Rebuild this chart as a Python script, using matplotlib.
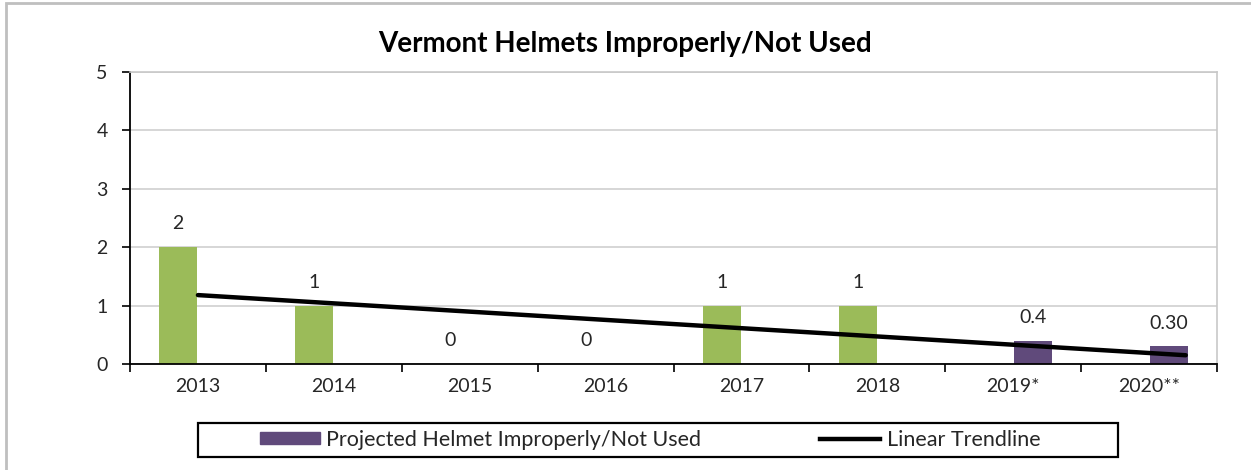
import matplotlib.pyplot as plt
import numpy as np
from matplotlib.lines import Line2D
from matplotlib.patches import Patch, Rectangle

years = ["2013", "2014", "2015", "2016", "2017", "2018", "2019*", "2020**"]
helmet_counts = [2, 1, 0, 0, 1, 1, None, None]
projected_counts = [None, None, None, None, None, None, 0.4, 0.30]
projected_labels = ["0.4", "0.30"]
trend_x = [0, 7.27]
trend_y = [1.18, 0.15]

plt.rcParams["font.family"] = ["Lato", "DejaVu Sans"]

fig = plt.figure(figsize=(12.51, 4.70), dpi=100)
ax = fig.add_axes([130 / 1251, 1 - 364 / 470, (1217 - 130) / 1251, (364 - 72) / 470])

x = np.arange(len(years))
w = 0.28
green = "#9BBB59"
purple = "#604A7B"
txt = "#262626"

for i, v in enumerate(helmet_counts):
    if v is None:
        continue
    ax.bar(i - 0.145, v, w, color=green, zorder=2)
    ax.text(i - 0.145, v + 0.4, f"{v}", ha="center", va="center", fontsize=14, color=txt)

k = 0
for i, v in enumerate(projected_counts):
    if v is None:
        continue
    ax.bar(i + 0.145, v, w, color=purple, zorder=2)
    ax.text(i + 0.145, v + 0.4, projected_labels[k], ha="center", va="center", fontsize=14, color=txt)
    k += 1

ax.plot(trend_x, trend_y, color="black", linewidth=3.2, solid_capstyle="round", zorder=3)

ax.set_xlim(-0.5, len(years) - 0.5)
ax.set_ylim(0, 5)
ax.set_yticks(range(6))
ax.yaxis.grid(True, color="#D0D0D0", linewidth=1.2, zorder=0)
ax.set_axisbelow(True)

ax.set_xticks(x)
ax.set_xticklabels(years)
ax.set_xticks(np.arange(-0.5, len(years)), minor=True)
ax.tick_params(axis="x", which="major", length=0, pad=10, labelsize=14, labelcolor=txt)
ax.tick_params(axis="x", which="minor", length=6, width=1.2, direction="out")
ax.tick_params(axis="y", length=6, width=1.2, direction="out", pad=10, labelsize=14, labelcolor=txt)

for s in ("left", "bottom"):
    ax.spines[s].set_color("black")
    ax.spines[s].set_linewidth(1.3)
for s in ("top", "right"):
    ax.spines[s].set_color("#C8C8C8")
    ax.spines[s].set_linewidth(1.2)

fig.text(0.5, 1 - 44 / 470, "Vermont Helmets Improperly/Not Used", ha="center", va="center",
         fontsize=20, fontweight="bold", color="black")

# legend entries without frame, box drawn separately (Excel pads it wide)
handles = [Patch(color=purple), Line2D([0], [0], color="black", linewidth=3.2)]
leg = fig.legend(handles, ["Projected Helmet Improperly/Not Used", "Linear Trendline"],
                 ncol=2, loc="center", bbox_to_anchor=(650 / 1251, 1 - 440 / 470),
                 fontsize=15.5, frameon=False, handlelength=2.8, handleheight=0.5,
                 columnspacing=5.5, handletextpad=0.3)
for t in leg.get_texts():
    t.set_color(txt)

fig.patches.append(Rectangle((198 / 1251, 1 - 457 / 470), 920 / 1251, 34 / 470,
                             transform=fig.transFigure, fill=False, edgecolor="black", linewidth=1.6))

fig.patches.append(Rectangle((6 / 1251, -0.1), 1.1, 1 - 3 / 470 + 0.1, transform=fig.transFigure,
                             fill=False, edgecolor="#BFBFBF", linewidth=2))

fig.savefig("out.png", dpi=100)
